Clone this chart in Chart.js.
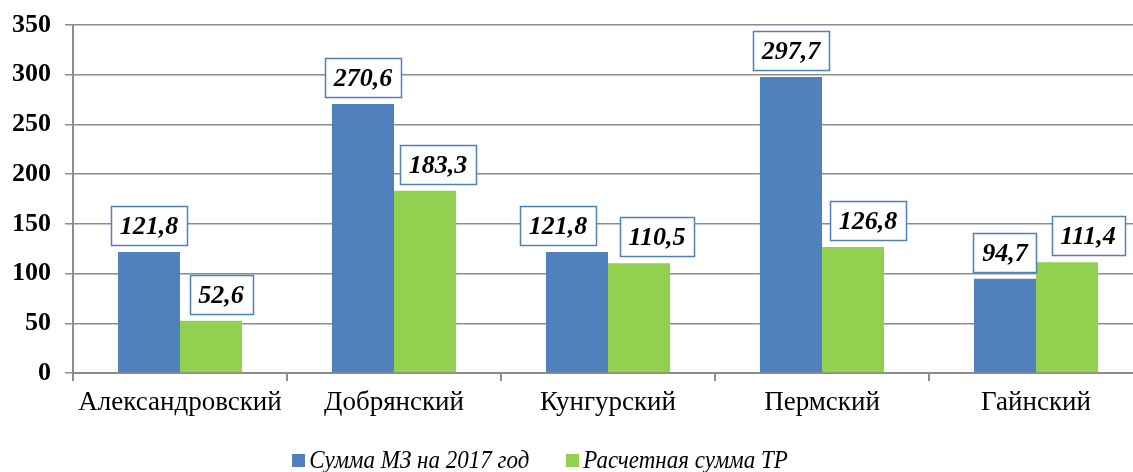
<!DOCTYPE html>
<html>
<head>
<meta charset="utf-8">
<script src="https://cdn.jsdelivr.net/npm/chart.js@4.4.1/dist/chart.umd.min.js"></script>
<style>
  html, body { margin: 0; padding: 0; background: #ffffff; overflow: hidden; }
  #wrap { width: 1150px; height: 472px; }
</style>
</head>
<body>
<div id="wrap"><canvas id="c" width="1150" height="472"></canvas></div>
<script>
// ---- data ----
const categories = ["Александровский", "Добрянский", "Кунгурский", "Пермский", "Гайнский"];
const seriesNames = ["Сумма МЗ на 2017 год", "Расчетная сумма ТР"];
const sumMZ = [121.8, 270.6, 121.8, 297.7, 94.7];
const sumTR = [52.6, 183.3, 110.5, 126.8, 111.4];
const yTicks = [0, 50, 100, 150, 200, 250, 300, 350];

// ---- label nudges (style, px) ----
const labelNudge = [[0, 0, -19, 0, 0], [10, 13, 18, 15, 21]];

const SERIF = "'Liberation Serif', 'Times New Roman', serif";
const BLUE = "#4F81BD";
const GREEN = "#92D050";
const GRID = "#8c8c8c";

const labelPlugin = {
  id: 'boxLabels',
  afterDatasetsDraw(chart) {
    const ctx = chart.ctx;
    ctx.save();
    ctx.font = "italic bold 26px " + SERIF;
    ctx.textAlign = "center";
    ctx.textBaseline = "middle";
    chart.data.datasets.forEach((ds, di) => {
      const meta = chart.getDatasetMeta(di);
      meta.data.forEach((bar, i) => {
        const txt = ds.data[i].toFixed(1).replace('.', ',');
        const tw = ctx.measureText(txt).width;
        const w = Math.round(tw + 17);
        const h = 39;
        const cx = bar.x + labelNudge[di][i];
        const bottom = bar.y - 7;
        const x0 = Math.round(cx - w / 2) + 0.5;
        const y0 = Math.round(bottom - h) + 0.5;
        ctx.fillStyle = "#ffffff";
        ctx.fillRect(x0, y0, w, h);
        ctx.strokeStyle = BLUE;
        ctx.lineWidth = 1.5;
        ctx.strokeRect(x0, y0, w, h);
        ctx.fillStyle = "#000000";
        ctx.fillText(txt, cx, y0 + h / 2 + 1);
      });
    });
    ctx.restore();
  }
};

// legend drawn from the datasets (names + colours)
const legendPlugin = {
  id: 'bottomLegend',
  afterDraw(chart) {
    const ctx = chart.ctx;
    ctx.save();
    ctx.font = "italic 23px " + SERIF;
    ctx.textBaseline = "middle";
    ctx.textAlign = "left";
    const cy = 460;
    const box = 13, gapBoxText = 4, gapItems = 37;
    const items = chart.data.datasets.map(ds => ({
      text: ds.label, color: ds.backgroundColor, w: ctx.measureText(ds.label).width
    }));
    let total = items.reduce((s, it) => s + box + gapBoxText + it.w, 0) + gapItems * (items.length - 1);
    let x = 540 - total / 2;
    items.forEach(it => {
      ctx.fillStyle = it.color;
      ctx.fillRect(Math.round(x), Math.round(cy - box / 2), box, box);
      x += box + gapBoxText;
      ctx.fillStyle = "#000000";
      ctx.save();
      ctx.translate(x, cy + 1);
      ctx.scale(1, 1.12);
      ctx.fillText(it.text, 0, 0);
      ctx.restore();
      x += it.w + gapItems;
    });
    ctx.restore();
  }
};

new Chart(document.getElementById('c'), {
  type: 'bar',
  data: {
    labels: categories,
    datasets: [
      { label: seriesNames[0], data: sumMZ, backgroundColor: BLUE, borderWidth: 0,
        categoryPercentage: 0.58, barPercentage: 1.0 },
      { label: seriesNames[1], data: sumTR, backgroundColor: GREEN, borderWidth: 0,
        categoryPercentage: 0.58, barPercentage: 1.0 }
    ]
  },
  options: {
    responsive: false,
    animation: false,
    devicePixelRatio: 1,
    layout: { padding: { left: 0, right: 7, top: 25, bottom: 0 } },
    plugins: {
      legend: { display: false },
      tooltip: { enabled: false }
    },
    scales: {
      x: {
        grid: { display: true, drawOnChartArea: false, drawTicks: true, tickLength: 8, color: GRID, lineWidth: 2, offset: true },
        border: { color: GRID, width: 2 },
        ticks: { font: { family: SERIF, size: 27 }, color: '#000000', padding: 6 },
        afterFit(scale) { scale.height = 99; scale.paddingLeft = 0; scale.paddingRight = 0; }
      },
      y: {
        min: 0, max: 350,
        afterBuildTicks(scale) { scale.ticks = yTicks.map(v => ({ value: v })); },
        grid: { color: GRID, lineWidth: 1.5, tickLength: 8 },
        border: { color: GRID, width: 2 },
        ticks: { font: { family: SERIF, size: 26, weight: 'bold' }, color: '#000000', padding: 14 },
        afterFit(scale) { scale.width = 73; scale.paddingTop = 0; scale.paddingBottom = 0; }
      }
    }
  },
  plugins: [labelPlugin, legendPlugin]
});
</script>
</body>
</html>
